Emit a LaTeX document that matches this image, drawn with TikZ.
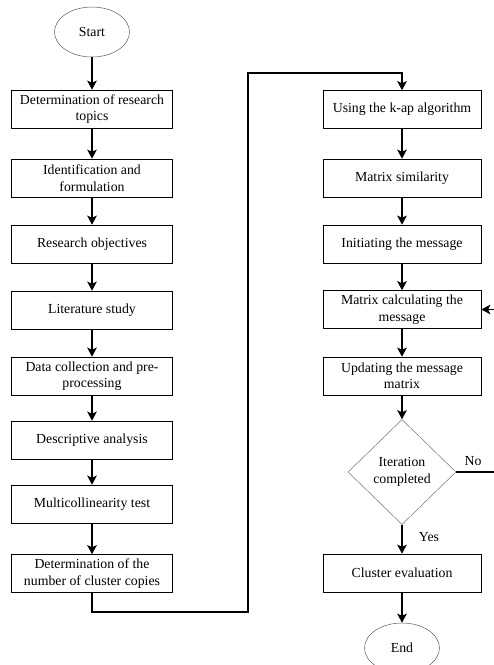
\documentclass[tikz,border=0pt]{standalone}
\usepackage{fontspec}
\setmainfont{Liberation Serif}
\usetikzlibrary{arrows.meta,shapes.geometric}
\begin{document}
\begin{tikzpicture}[x=1pt,y=-1pt,
  every node/.style={font=\fontsize{13.8}{16.5}\selectfont, align=center, inner sep=0pt},
  lbox/.style={draw=black, line width=0.6pt, minimum width=161pt, minimum height=38pt},
  rbox/.style={draw=black, line width=0.6pt, minimum width=158pt, minimum height=38pt},
  term/.style={ellipse, draw=black!65, line width=0.5pt, minimum width=75pt, minimum height=50pt},
  decis/.style={diamond, draw=black!55, line width=0.5pt, minimum width=108pt, minimum height=105pt, aspect=1.03},
  conn/.style={line width=1.6pt, -{Stealth[length=9pt,width=9.5pt,inset=2pt]}},
  plain/.style={line width=1.6pt}
]
\useasboundingbox (0,0) rectangle (494,665);
\node[term] (start) at (92,32) {Start};
\node[lbox] (b1) at (92,109) {Determination of research\\topics};
\node[lbox] (b2) at (92,178) {Identification and\\formulation};
\node[lbox] (b3) at (92,244) {Research objectives};
\node[lbox] (b4) at (92,310) {Literature study};
\node[lbox] (b5) at (92,376) {Data collection and pre-\\processing};
\node[lbox] (b6) at (92,440) {Descriptive analysis};
\node[lbox] (b7) at (92,504) {Multicollinearity test};
\node[lbox] (b8) at (92,573.5) {Determination of the\\number of cluster copies};

\node[rbox] (r1) at (402,109.5) {Using the k-ap algorithm};
\node[rbox] (r2) at (402,178) {Matrix similarity};
\node[rbox] (r3) at (402,244) {Initiating the message};
\node[rbox] (r4) at (402,309.5) {Matrix calculating the\\message};
\node[rbox] (r5) at (402,376) {Updating the message\\matrix};
\node[decis] (d) at (402,472) {Iteration\\completed};
\node[rbox] (r6) at (402,573) {Cluster evaluation};
\node[term] (end) at (402,648) {End};

\node (no) at (473,461) {No};
\node (yes) at (429,537) {Yes};

\coordinate (c1) at (92,612);
\coordinate (c2) at (248,612);
\coordinate (c3) at (248,73);
\coordinate (c4) at (402,73);
\coordinate (ne) at (494,472);
\coordinate (fe) at (494,309.5);

\draw[conn] (start) -- (b1);
\draw[conn] (b1) -- (b2);
\draw[conn] (b2) -- (b3);
\draw[conn] (b3) -- (b4);
\draw[conn] (b4) -- (b5);
\draw[conn] (b5) -- (b6);
\draw[conn] (b6) -- (b7);
\draw[conn] (b7) -- (b8);
\draw[conn] (b8.south) -- (c1) -- (c2) -- (c3) -- (c4) -- (r1.north);
\draw[conn] (r1) -- (r2);
\draw[conn] (r2) -- (r3);
\draw[conn] (r3) -- (r4);
\draw[conn] (r4) -- (r5);
\draw[conn] (r5) -- (d);
\draw[conn] (d) -- (r6);
\draw[conn] (r6) -- (end);
\draw[plain] (d.east) -- (ne);
\draw[conn] (fe) -- (r4.east);
\end{tikzpicture}
\end{document}
